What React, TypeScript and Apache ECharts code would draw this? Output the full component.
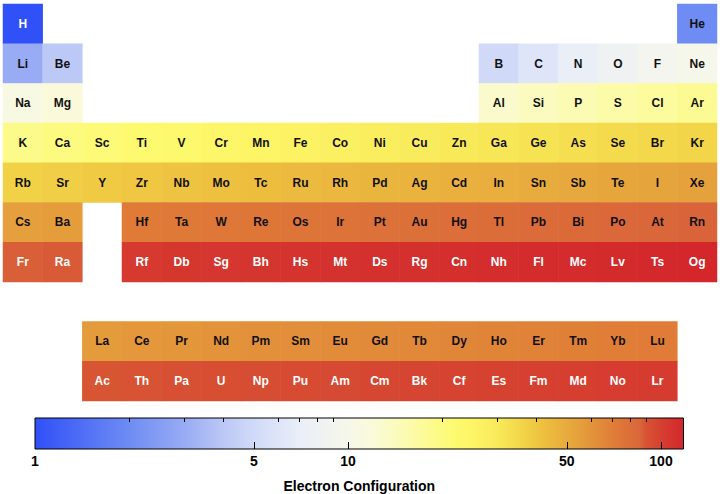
import React, { useEffect, useRef } from "react";
import * as echarts from "echarts";

// Element symbols in order of atomic number (Z = index + 1)
const SYMBOLS = [
  "H","He","Li","Be","B","C","N","O","F","Ne","Na","Mg","Al","Si","P","S","Cl","Ar",
  "K","Ca","Sc","Ti","V","Cr","Mn","Fe","Co","Ni","Cu","Zn","Ga","Ge","As","Se","Br","Kr",
  "Rb","Sr","Y","Zr","Nb","Mo","Tc","Ru","Rh","Pd","Ag","Cd","In","Sn","Sb","Te","I","Xe",
  "Cs","Ba","La","Ce","Pr","Nd","Pm","Sm","Eu","Gd","Tb","Dy","Ho","Er","Tm","Yb","Lu",
  "Hf","Ta","W","Re","Os","Ir","Pt","Au","Hg","Tl","Pb","Bi","Po","At","Rn",
  "Fr","Ra","Ac","Th","Pa","U","Np","Pu","Am","Cm","Bk","Cf","Es","Fm","Md","No","Lr",
  "Rf","Db","Sg","Bh","Hs","Mt","Ds","Rg","Cn","Nh","Fl","Mc","Lv","Ts","Og",
];

// Table layout: 10 rows x 18 columns ("" = empty cell)
const ROW_1 = ["H","","","","","","","","","","","","","","","","","He"];
const ROW_2 = ["Li","Be","","","","","","","","","","","B","C","N","O","F","Ne"];
const ROW_3 = ["Na","Mg","","","","","","","","","","","Al","Si","P","S","Cl","Ar"];
const ROW_4 = ["K","Ca","Sc","Ti","V","Cr","Mn","Fe","Co","Ni","Cu","Zn","Ga","Ge","As","Se","Br","Kr"];
const ROW_5 = ["Rb","Sr","Y","Zr","Nb","Mo","Tc","Ru","Rh","Pd","Ag","Cd","In","Sn","Sb","Te","I","Xe"];
const ROW_6 = ["Cs","Ba","","Hf","Ta","W","Re","Os","Ir","Pt","Au","Hg","Tl","Pb","Bi","Po","At","Rn"];
const ROW_7 = ["Fr","Ra","","Rf","Db","Sg","Bh","Hs","Mt","Ds","Rg","Cn","Nh","Fl","Mc","Lv","Ts","Og"];
const ROW_GAP = ["","","","","","","","","","","","","","","","","",""];
const ROW_LA = ["","","La","Ce","Pr","Nd","Pm","Sm","Eu","Gd","Tb","Dy","Ho","Er","Tm","Yb","Lu",""];
const ROW_AC = ["","","Ac","Th","Pa","U","Np","Pu","Am","Cm","Bk","Cf","Es","Fm","Md","No","Lr",""];
const LAYOUT = [ROW_1, ROW_2, ROW_3, ROW_4, ROW_5, ROW_6, ROW_7, ROW_GAP, ROW_LA, ROW_AC];

const VALUE_MIN = 1;
const VALUE_MAX = 118;

// Colour bar ticks
const TICK_LABELS = [1, 5, 10, 50, 100];
const MAJOR_TICKS = [5, 10, 50, 100];
const MINOR_TICKS = [2, 3, 4, 6, 7, 8, 9, 20, 30, 40, 60, 70, 80, 90];

// Colour map anchors (value -> colour), log scale
const CMAP_VALUES = [1, 2, 3, 4, 5, 7, 10, 12, 16, 22, 25, 30, 36, 43, 54, 72, 86, 89, 104, 118];
const CMAP_COLORS = [
  "#3050F8", "#6E8CF3", "#98ABF4", "#BCC8F6", "#D0DAF8", "#EAEEF8", "#F6F7EA", "#FAFADA",
  "#FCFBA8", "#FDFA6F", "#FDF566", "#F8EA5A", "#F2D548", "#EDBD3E", "#E5A23C", "#DF7A37",
  "#D9663A", "#D85434", "#D5392F", "#D3272C",
];

const FONT = "'Liberation Sans', Arial, Helvetica, sans-serif";

function hexToRgb(h: string) {
  const n = parseInt(h.slice(1), 16);
  return [(n >> 16) & 255, (n >> 8) & 255, n & 255];
}
function colorAt(t: number) {
  const ts = CMAP_VALUES.map((v) => Math.log10(v));
  if (t <= ts[0]) return CMAP_COLORS[0];
  for (let i = 1; i < ts.length; i++) {
    if (t <= ts[i]) {
      const f = (t - ts[i - 1]) / (ts[i] - ts[i - 1]);
      const a = hexToRgb(CMAP_COLORS[i - 1]);
      const b = hexToRgb(CMAP_COLORS[i]);
      const c = a.map((x, k) => Math.round(x + (b[k] - x) * f));
      return `rgb(${c[0]},${c[1]},${c[2]})`;
    }
  }
  return CMAP_COLORS[CMAP_COLORS.length - 1];
}

export default function App() {
  const ref = useRef<HTMLDivElement>(null);
  useEffect(() => {
    if (!ref.current) return;
    const chart = echarts.init(ref.current, null, { renderer: "svg" });
    const tMin = Math.log10(VALUE_MIN);
    const tMax = Math.log10(VALUE_MAX);

    const cells: any[] = [];
    LAYOUT.forEach((row, r) => {
      row.forEach((sym, c) => {
        if (!sym) return;
        const z = SYMBOLS.indexOf(sym) + 1;
        cells.push({
          name: sym,
          value: [c, r, Math.log10(z)],
          label: { color: z === 1 || z >= 87 ? "#ffffff" : "#111111" },
        });
      });
    });

    const N = 120;
    const sampled: string[] = [];
    for (let i = 0; i < N; i++) sampled.push(colorAt(tMin + ((tMax - tMin) * i) / (N - 1)));

    const gradStops = CMAP_VALUES.map((v, i) => ({
      offset: (Math.log10(v) - tMin) / (tMax - tMin),
      color: CMAP_COLORS[i],
    }));

    const cols = LAYOUT[0].map((_, i) => String(i));
    const rows = LAYOUT.map((_, i) => String(i));

    chart.setOption({
      animation: false,
      backgroundColor: "#ffffff",
      grid: [
        { left: 3, top: 4, width: 714, height: 397 },
        { left: 35, top: 418, width: 648.5, height: 34 },
      ],
      xAxis: [
        { type: "category", data: cols, gridIndex: 0, show: false },
        {
          type: "value", gridIndex: 1, min: tMin, max: tMax, z: 10,
          axisLine: { show: false }, splitLine: { show: false },
          axisTick: {
            show: true, inside: true, length: 7,
            customValues: MAJOR_TICKS.map((v) => Math.log10(v)),
            lineStyle: { color: "#000", width: 1 },
          },
          axisLabel: {
            show: true, margin: 5,
            customValues: TICK_LABELS.map((v) => Math.log10(v)),
            formatter: (v: number) => String(Math.round(Math.pow(10, v))),
            color: "#000", fontWeight: "bold", fontSize: 14, fontFamily: FONT,
          },
          name: "Electron Configuration", nameLocation: "middle", nameGap: 30,
          nameTextStyle: { color: "#000", fontWeight: "bold", fontSize: 14, fontFamily: FONT },
        },
        {
          type: "value", gridIndex: 1, min: tMin, max: tMax, z: 10,
          axisLine: { show: false }, splitLine: { show: false },
          axisTick: {
            show: true, inside: true, length: 4,
            customValues: MINOR_TICKS.map((v) => Math.log10(v)),
            lineStyle: { color: "#000", width: 1 },
          },
          axisLabel: { show: false },
        },
      ],
      yAxis: [
        { type: "category", data: rows, gridIndex: 0, inverse: true, show: false },
        { type: "value", gridIndex: 1, min: 0, max: 1, show: false },
      ],
      visualMap: {
        show: false, type: "continuous", seriesIndex: 0, dimension: 2,
        min: tMin, max: tMax, inRange: { color: sampled },
      },
      series: [
        {
          type: "heatmap", xAxisIndex: 0, yAxisIndex: 0, data: cells,
          itemStyle: { borderWidth: 0 },
          label: {
            show: true, formatter: "{b}", fontSize: 12, fontWeight: "bold", fontFamily: FONT,
          },
          emphasis: { disabled: true },
        },
        {
          type: "custom", xAxisIndex: 1, yAxisIndex: 1, z: 1, silent: true,
          data: [[tMin, tMax]],
          renderItem: (params: any, api: any) => {
            const p0 = api.coord([api.value(0), 1]);
            const p1 = api.coord([api.value(1), 0]);
            return {
              type: "rect",
              shape: { x: p0[0], y: p0[1], width: p1[0] - p0[0], height: p1[1] - p0[1] },
              style: {
                fill: new echarts.graphic.LinearGradient(0, 0, 1, 0, gradStops),
                stroke: "#000", lineWidth: 1,
              },
            };
          },
        },
      ],
    });
    return () => chart.dispose();
  }, []);
  return (
    <div
      ref={ref}
      style={{ position: "absolute", left: 0, top: 0, width: 720, height: 494, background: "#fff" }}
    />
  );
}
